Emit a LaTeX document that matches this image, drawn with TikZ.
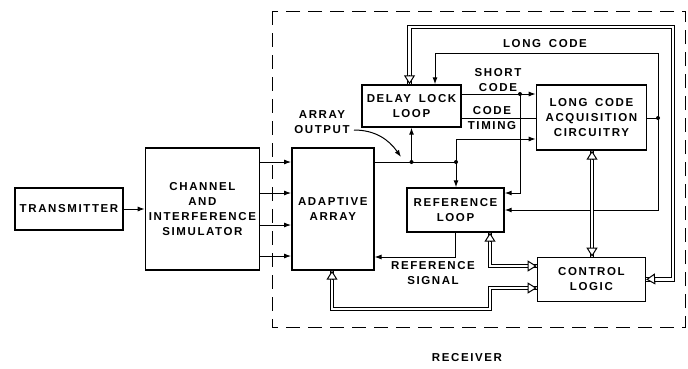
\documentclass[tikz,border=0pt]{standalone}
\usepackage{fontspec}
\setsansfont[LetterSpace=14, WordSpace=1.6]{Liberation Sans}
\usetikzlibrary{arrows.meta, positioning, calc}

% hollow head at end #1 of a bus that comes from #2
\newcommand\bushead[2]{\draw[hd] ($(#1)!9pt!(#2)$) -- (#1);}

\begin{document}
\begin{tikzpicture}[x=1pt, y=-1pt, node distance=21pt,
  block/.style={draw, line width=1.4pt, inner sep=0pt, align=center,
                font=\sffamily\bfseries\fontsize{11.5}{15}\selectfont},
  lbl/.style={align=center, inner sep=0pt,
              font=\sffamily\bfseries\fontsize{11.5}{15}\selectfont},
  sig/.style={-{Latex[length=7pt,width=5pt]}, line width=1pt},
  wire/.style={line width=1pt},
  bus/.style={double, double distance=2.6pt, line width=1pt},
  hd/.style={-{Triangle[length=9pt,width=11pt,fill=white]}, line width=1pt},
  dot/.style={circle, fill, inner sep=0pt, minimum size=4pt}]

  \useasboundingbox (0,0) rectangle (688,368);

  % receiver outline
  \draw[line width=1pt, dash pattern=on 14pt off 8pt] (272,11) rectangle (685,327);
  \node[lbl] (rcv) at (467,358) {RECEIVER};

  \node[block, minimum width=108pt, minimum height=42pt] (tx) at (69,209) {TRANSMITTER};
  \node[block, minimum width=114pt, minimum height=122pt, right=of tx] (chan)
       {CHANNEL\\AND\\INTERFERENCE\\SIMULATOR};
  \node[block, minimum width=82pt, minimum height=122pt, right=31pt of chan] (arr)
       {ADAPTIVE\\ARRAY};
  \node[block, minimum width=99pt, minimum height=42pt] (dll) at (411.5,106) {DELAY LOCK\\LOOP};
  \node[block, minimum width=110pt, minimum height=65pt, right=74pt of dll.north east,
        anchor=north west] (lcac) {LONG CODE\\ACQUISITION\\CIRCUITRY};
  \node[block, minimum width=97pt, minimum height=44pt] (refl) at (455.5,210) {REFERENCE\\LOOP};
  \node[block, minimum width=108pt, minimum height=44pt, below=106pt of lcac] (ctrl)
       {CONTROL\\LOGIC};

  \draw[sig] (tx) -- (chan);
  \foreach \y in {162,193,225,256}
    \draw[sig] (chan.east |- 0,\y) -- (arr.west |- 0,\y);

  % array output
  \coordinate (j1) at (411.5,162);
  \coordinate (j2) at (456,162);
  \draw[wire] (arr.east |- j1) -- (j2);
  \draw[sig] (j1) -- (j1 |- dll.south);
  \draw[sig] (j2) -- (j2 |- refl.north);
  \draw[sig] (j2) |- (lcac.west |- 0,139);
  \node[dot] at (j1) {};
  \node[dot] at (j2) {};
  \node[lbl] (aout) at (322,122) {ARRAY\\OUTPUT};
  \draw[sig] (354,130) to[out=0, in=125] (401,157);

  % short code and code timing
  \coordinate (sc) at (520,94);
  \draw[sig] (dll.east |- sc) -- (lcac.west |- sc);
  \draw[sig] (sc) |- (refl.east |- 0,193);
  \node[dot] at (sc) {};
  \node[lbl] (sclbl) at (498,80.5) {SHORT\\CODE};
  \draw[wire] (dll.east |- 0,118) -- (lcac.west |- 0,118);
  \node[lbl] (ctlbl) at (492,118) {CODE\\TIMING};

  % long code
  \coordinate (lc) at (658,118);
  \draw[wire] (lcac.east |- lc) -- (lc);
  \draw[sig] (lc) |- (refl.east);
  \draw[sig] (lc) |- (435,53) -- (dll.north -| 435,0);
  \node[dot] at (lc) {};
  \node[lbl] (lclbl) at (545,44) {LONG CODE};

  % reference signal
  \draw[sig] (refl.south) |- (arr.east |- 0,257);
  \node[lbl] (rslbl) at (433,273.5) {REFERENCE\\SIGNAL};

  % control buses
  \draw[bus] (ctrl.east) -| (673,27) -| (dll.north -| 409.5,0);
  \bushead{ctrl.east}{673,278}
  \bushead{dll.north -| 409.5,0}{409.5,27}
  \draw[bus] (lcac.south -| 592,0) -- (ctrl.north -| 592,0);
  \bushead{lcac.south -| 592,0}{592,256}
  \bushead{ctrl.north -| 592,0}{592,150}
  \draw[bus] (refl.south -| 490,0) |- (ctrl.west |- 0,266);
  \bushead{refl.south -| 490,0}{490,266}
  \bushead{ctrl.west |- 0,266}{490,266}
  \draw[bus] (arr.south -| 332,0) -- (332,309) -| (490,288) -- (ctrl.west |- 0,288);
  \bushead{arr.south -| 332,0}{332,309}
  \bushead{ctrl.west |- 0,288}{490,288}
\end{tikzpicture}
\end{document}
